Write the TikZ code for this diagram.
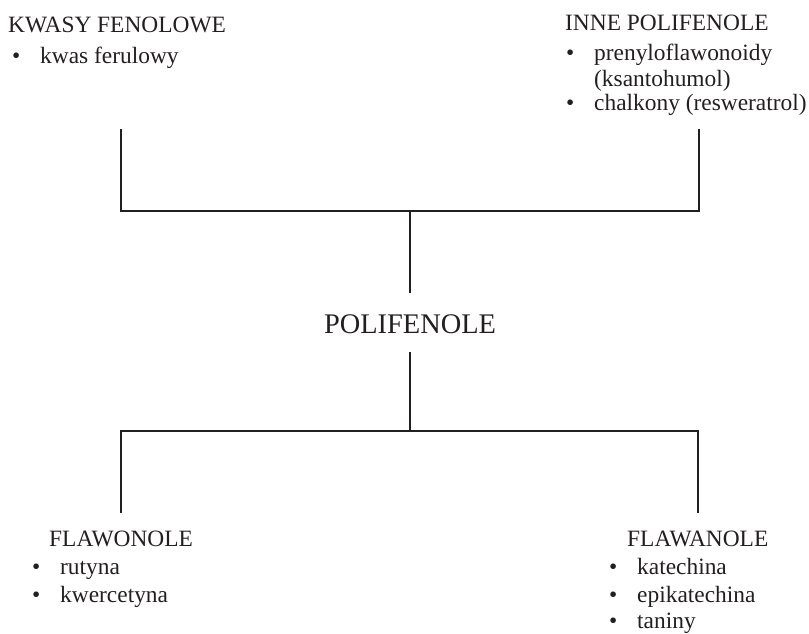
\documentclass[tikz,border=0pt]{standalone}
\usepackage{fontspec}
\setmainfont{Liberation Serif}
\definecolor{tekst}{HTML}{231F20}
\begin{document}
\begin{tikzpicture}[x=1pt, y=-1pt,
    head/.style={anchor=base west, inner sep=0pt, text=tekst, font=\fontsize{23.4}{28}\selectfont},
    item/.style={head, execute at begin node={\makebox[28pt][l]{•}}},
    itemcont/.style={head},
    linia/.style={line width=1.8pt, draw=tekst}]
    \useasboundingbox (0,0) rectangle (809,633);

    \node[head] (kwasy) at (8,32) {KWASY FENOLOWE};
    \node[item] (ferul) at (12,63) {kwas ferulowy};

    \node[head] (inne) at (565,30) {INNE POLIFENOLE};
    \node[item] (preny) at (566,60) {prenyloflawonoidy};
    \node[itemcont] (ksant) at (594,86) {(ksantohumol)};
    \node[item] (chalk) at (566,110) {chalkony (resweratrol)};

    \node[anchor=base, text=tekst, font=\fontsize{28.4}{32}\selectfont, inner xsep=0pt, inner ysep=18.5pt, text height=21pt, text depth=0pt] (poli) at (410,333) {POLIFENOLE};

    \node[head] (flawon) at (49,546) {FLAWONOLE};
    \node[item] (rutyna) at (32,574) {rutyna};
    \node[item] (kwerc) at (32,602) {kwercetyna};

    \node[head] (flawan) at (627,546) {FLAWANOLE};
    \node[item] (katech) at (609,574) {katechina};
    \node[item] (epikat) at (609,602) {epikatechina};
    \node[item] (taniny) at (609,628) {taniny};

    \coordinate (tl) at (121,129);
    \coordinate (tr) at (699,129);
    \coordinate (topbar) at (410,211);
    \coordinate (bl) at (121,513);
    \coordinate (br) at (698,513);
    \coordinate (botbar) at (410,431);

    \draw[linia] (tl) |- (topbar) -| (tr);
    \draw[linia] (topbar) -- (poli.north);
    \draw[linia] (poli.south) -- (botbar);
    \draw[linia] (bl) |- (botbar) -| (br);
\end{tikzpicture}
\end{document}
